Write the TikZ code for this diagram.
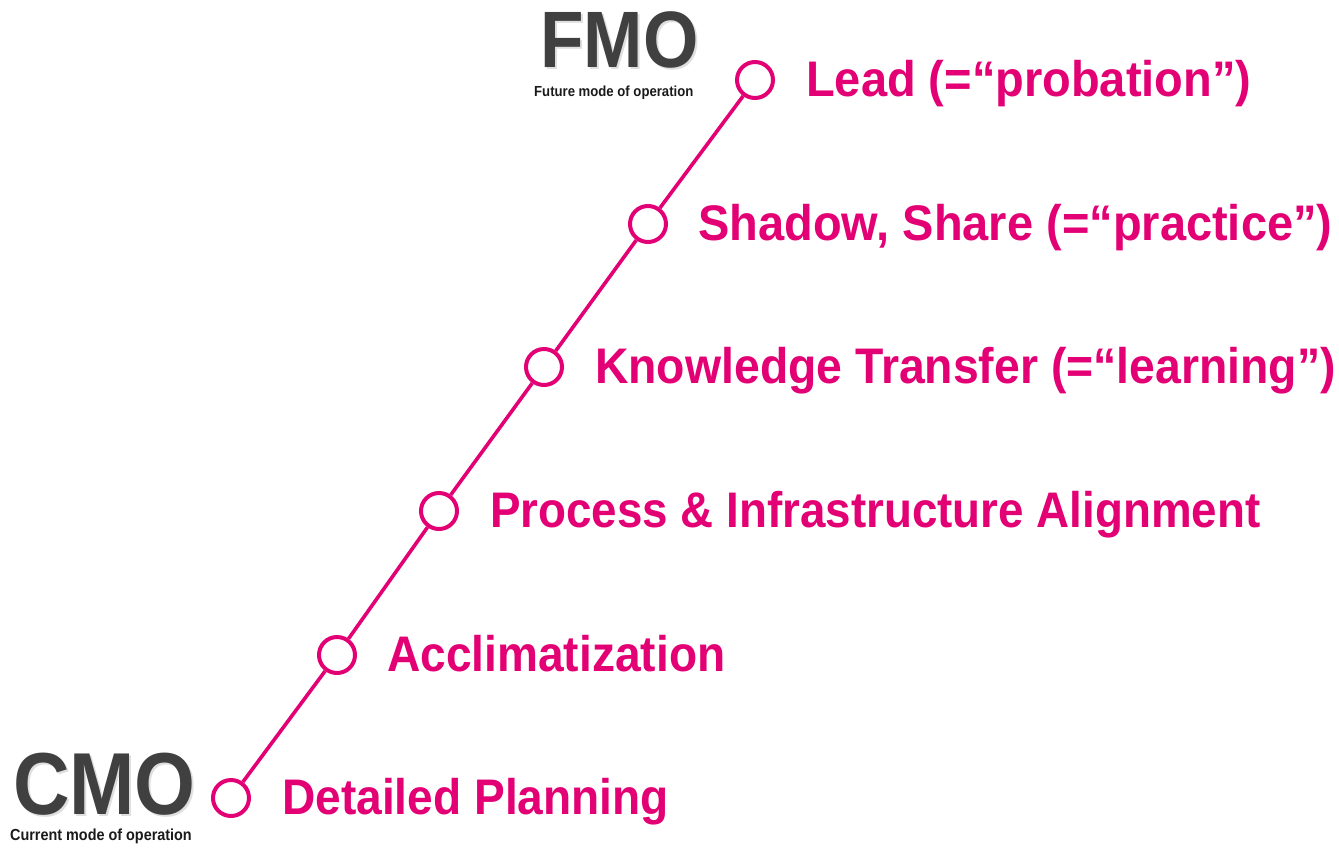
\documentclass[tikz,border=0pt]{standalone}
\usepackage{fontspec}
\setmainfont{Liberation Sans}
\newfontfamily\steplabelfont[FakeStretch=0.94]{Liberation Sans}
\newfontfamily\steplabelfontb[FakeStretch=0.922]{Liberation Sans}
\newfontfamily\steplabelfontc[FakeStretch=0.915]{Liberation Sans}
\newfontfamily\steplabelfontd[FakeStretch=0.927]{Liberation Sans}
\newfontfamily\modefont[FakeStretch=0.89]{Liberation Sans}
\newfontfamily\modesubfont[FakeStretch=0.9]{Liberation Sans}
\definecolor{tmagenta}{HTML}{E20074}
\definecolor{modegray}{HTML}{404040}
\definecolor{subblack}{HTML}{1A1A1A}
\tikzset{
  milestone/.style={circle, draw=tmagenta, line width=4pt, fill=white, minimum size=36pt, inner sep=0pt},
  stepline/.style={draw=tmagenta, line width=3.6pt},
  steplabel/.style={anchor=base west, inner sep=0pt, text=tmagenta, font=\steplabelfont\bfseries\fontsize{50}{56}\selectfont},
  steplabelb/.style={steplabel, font=\steplabelfontb\bfseries\fontsize{50}{56}\selectfont},
  steplabelc/.style={steplabel, font=\steplabelfontc\bfseries\fontsize{50}{56}\selectfont},
  steplabeld/.style={steplabel, font=\steplabelfontd\bfseries\fontsize{50}{56}\selectfont},
  modetitle/.style={anchor=base west, inner sep=0pt, text depth=0pt, text=modegray, font=\modefont\bfseries\fontsize{#1}{#1}\selectfont},
  modeshadow/.style={anchor=base west, inner sep=0pt, text depth=0pt, text=gray!25, font=\modefont\bfseries\fontsize{#1}{#1}\selectfont},
  modesub/.style={anchor=base west, inner sep=0pt, text=subblack, font=\modesubfont\bfseries\fontsize{#1}{#1}\selectfont}
}
\begin{document}
\begin{tikzpicture}[x=1pt,y=-1pt]
\useasboundingbox (0,0) rectangle (1339,847);
% milestones
\node[milestone] (c1) at (755,80) {};
\node[milestone] (c2) at (648,224) {};
\node[milestone] (c3) at (544,367) {};
\node[milestone] (c4) at (439,511) {};
\node[milestone] (c5) at (337,655) {};
\node[milestone] (c6) at (231,798) {};
\path[stepline] (c6) -- (c5);
\path[stepline] (c5) -- (c4);
\path[stepline] (c4) -- (c3);
\path[stepline] (c3) -- (c2);
\path[stepline] (c2) -- (c1);
% labels
\node[steplabel] (l1) at (806,96) {Lead (=“probation”)};
\node[steplabel] (l2) at (698,240) {Shadow, Share (=“practice”)};
\node[steplabeld] (l3) at (595,383) {Knowledge Transfer (=“learning”)};
\node[steplabelc] (l4) at (490,527) {Process \& Infrastructure Alignment};
\node[steplabelb] (l5) at (387,671) {Acclimatization};
\node[steplabelb] (l6) at (282,814) {Detailed Planning};
% FMO
\node[modeshadow=80] (fmos) at (542,69) {FMO};
\node[modetitle=80] (fmo) at (540,67) {FMO};
\node[modesub=14.6] (fmosub) at (534,96) {Future mode of operation};
% CMO
\node[modeshadow=88] (cmos) at (15,816) {CMO};
\node[modetitle=88] (cmo) at (13,814) {CMO};
\node[modesub=16] (cmosub) at (10,840) {Current mode of operation};
\end{tikzpicture}
\end{document}
